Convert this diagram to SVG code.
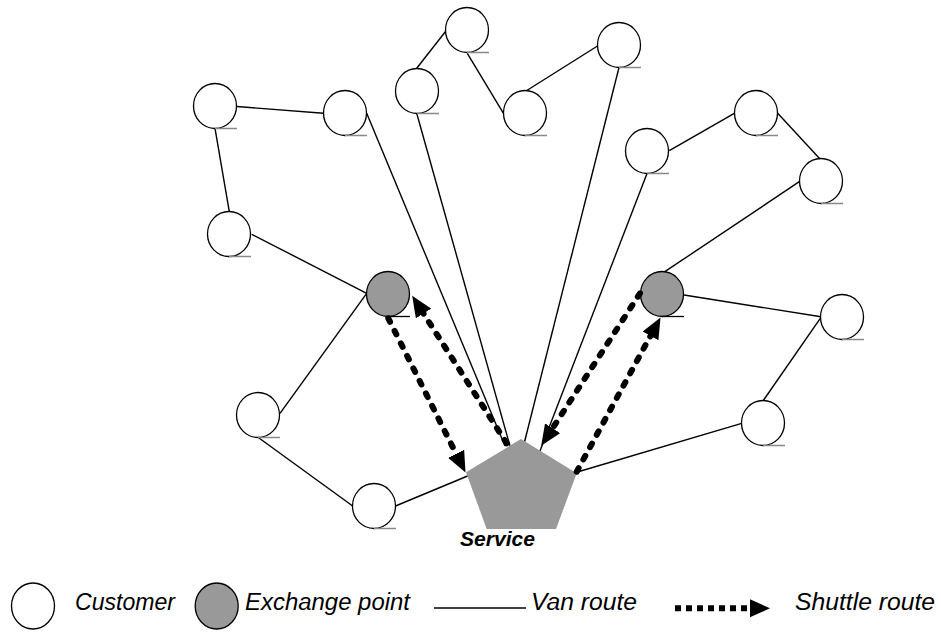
<svg xmlns="http://www.w3.org/2000/svg" width="941" height="632" viewBox="0 0 941 632">
  <style>
    .cust { fill: #ffffff; stroke: #000000; stroke-width: 1.3; }
    .xch { fill: #999999; stroke: #000000; stroke-width: 1.3; }
    .ul { stroke: #888888; stroke-width: 1.5; }
    .ulx { stroke: #000000; stroke-width: 1.3; }
    .van { stroke: #000000; stroke-width: 1.4; fill: none; }
    .shuttle { stroke: #000000; stroke-width: 6; stroke-dasharray: 4 10; stroke-linecap: round; fill: none; marker-end: url(#ah); }
    .depot { fill: #999999; stroke: none; }
    .lbl { font-family: "Liberation Sans", Arial, sans-serif; font-style: italic; font-size: 23px; fill: #000000; }
    .svc { font-family: "Liberation Sans", Arial, sans-serif; font-style: italic; font-weight: bold; font-size: 20px; fill: #000000; }
  </style>
  <defs>
    <marker id="ah" markerUnits="userSpaceOnUse" markerWidth="22" markerHeight="18" refX="0" refY="9" orient="auto">
      <path d="M0,0 L21,9 L0,18 z" fill="#000000"/>
    </marker>
  </defs>

  <!-- van routes -->
  <g id="van-routes">
    <line class="van" x1="236.7" y1="106.5" x2="323.3" y2="113.3"/>
    <line class="van" x1="215" y1="128.3" x2="229.3" y2="211.7"/>
    <line class="van" x1="251.7" y1="234.3" x2="366.7" y2="293.3"/>
    <line class="van" x1="366.7" y1="293.3" x2="280" y2="413.3"/>
    <line class="van" x1="258.3" y1="437.5" x2="352.7" y2="506"/>
    <line class="van" x1="395.5" y1="506" x2="470" y2="475"/>
    <line class="van" x1="366.7" y1="113.3" x2="505" y2="446"/>
    <line class="van" x1="416.7" y1="113.3" x2="510" y2="446"/>
    <line class="van" x1="416.7" y1="68.3" x2="446.7" y2="30"/>
    <line class="van" x1="467.3" y1="53.3" x2="503.5" y2="113.3"/>
    <line class="van" x1="526" y1="91" x2="597.5" y2="46"/>
    <line class="van" x1="619" y1="67.5" x2="523.5" y2="446"/>
    <line class="van" x1="647" y1="173.5" x2="540" y2="451"/>
    <line class="van" x1="669.3" y1="150.7" x2="734.3" y2="113.3"/>
    <line class="van" x1="777.7" y1="113.3" x2="820" y2="159"/>
    <line class="van" x1="799.3" y1="181.7" x2="663.3" y2="272.7"/>
    <line class="van" x1="684" y1="295" x2="821" y2="316.7"/>
    <line class="van" x1="821.5" y1="316.7" x2="763.3" y2="400.5"/>
    <line class="van" x1="741.7" y1="423.3" x2="574" y2="473"/>
  </g>

  <!-- service depot -->
  <g id="service">
    <polygon class="depot" points="521,439 576.7,473.3 556,529 486.7,529 466,472.3"/>
    <text class="svc" x="460" y="546" textLength="75" lengthAdjust="spacingAndGlyphs">Service</text>
  </g>

  <!-- customers -->
  <g id="customer-1"><ellipse class="cust" cx="215" cy="106" rx="21.5" ry="22.5"/><line class="ul" x1="215" y1="128.5" x2="237" y2="128.5"/></g>
  <g id="customer-2"><ellipse class="cust" cx="345" cy="113" rx="21.5" ry="22.5"/><line class="ul" x1="345" y1="135.5" x2="367" y2="135.5"/></g>
  <g id="customer-3"><ellipse class="cust" cx="229" cy="234" rx="21.5" ry="22.5"/><line class="ul" x1="229" y1="256.5" x2="251" y2="256.5"/></g>
  <g id="customer-4"><ellipse class="cust" cx="417" cy="91" rx="21.5" ry="22.5"/><line class="ul" x1="417" y1="113.5" x2="439" y2="113.5"/></g>
  <g id="customer-5"><ellipse class="cust" cx="467" cy="30" rx="21.5" ry="22.5"/><line class="ul" x1="467" y1="52.5" x2="489" y2="52.5"/></g>
  <g id="customer-6"><ellipse class="cust" cx="525" cy="113" rx="21.5" ry="22.5"/><line class="ul" x1="525" y1="135.5" x2="547" y2="135.5"/></g>
  <g id="customer-7"><ellipse class="cust" cx="619" cy="45" rx="21.5" ry="22.5"/><line class="ul" x1="619" y1="67.5" x2="641" y2="67.5"/></g>
  <g id="customer-8"><ellipse class="cust" cx="647" cy="151" rx="21.5" ry="22.5"/><line class="ul" x1="647" y1="173.5" x2="669" y2="173.5"/></g>
  <g id="customer-9"><ellipse class="cust" cx="756" cy="113" rx="21.5" ry="22.5"/><line class="ul" x1="756" y1="135.5" x2="778" y2="135.5"/></g>
  <g id="customer-10"><ellipse class="cust" cx="821" cy="181" rx="21.5" ry="22.5"/><line class="ul" x1="821" y1="203.5" x2="843" y2="203.5"/></g>
  <g id="customer-11"><ellipse class="cust" cx="842" cy="317" rx="21.5" ry="22.5"/><line class="ul" x1="842" y1="339.5" x2="864" y2="339.5"/></g>
  <g id="customer-12"><ellipse class="cust" cx="763" cy="423" rx="21.5" ry="22.5"/><line class="ul" x1="763" y1="445.5" x2="785" y2="445.5"/></g>
  <g id="customer-13"><ellipse class="cust" cx="258" cy="415" rx="21.5" ry="22.5"/><line class="ul" x1="258" y1="437.5" x2="280" y2="437.5"/></g>
  <g id="customer-14"><ellipse class="cust" cx="374" cy="506" rx="21.5" ry="22.5"/><line class="ul" x1="374" y1="528.5" x2="396" y2="528.5"/></g>

  <!-- exchange points -->
  <g id="exchange-left"><ellipse class="xch" cx="388" cy="294" rx="21.5" ry="22.5"/><line class="ulx" x1="388" y1="316.5" x2="410" y2="316.5"/></g>
  <g id="exchange-right"><ellipse class="xch" cx="662" cy="294" rx="21.5" ry="22.5"/><line class="ulx" x1="662" y1="316.5" x2="684" y2="316.5"/></g>

  <!-- shuttle routes -->
  <g id="shuttle-routes">
    <line class="shuttle" x1="388.3" y1="318.3" x2="456.1" y2="453.8"/>
    <line class="shuttle" x1="506.7" y1="443.3" x2="423.5" y2="313.5"/>
    <line class="shuttle" x1="640" y1="293.3" x2="552.6" y2="428.2"/>
    <line class="shuttle" x1="576.7" y1="471.7" x2="650.5" y2="335.9"/>
  </g>

  <!-- legend -->
  <g id="legend">
    <ellipse class="cust" cx="33" cy="606" rx="21.5" ry="23"/>
    <text class="lbl" x="75" y="610" textLength="100" lengthAdjust="spacingAndGlyphs">Customer</text>
    <ellipse class="xch" cx="216.7" cy="606" rx="21.5" ry="23"/>
    <text class="lbl" x="245" y="610" textLength="165" lengthAdjust="spacingAndGlyphs">Exchange point</text>
    <line class="van" x1="434" y1="608" x2="526" y2="608"/>
    <text class="lbl" x="531" y="610" textLength="106" lengthAdjust="spacingAndGlyphs">Van route</text>
    <line x1="675" y1="608.3" x2="747" y2="608.3" stroke="#000000" stroke-width="6" stroke-dasharray="6 5"/>
    <polygon points="750,599.3 770,608.3 750,617.3" fill="#000000"/>
    <text class="lbl" x="795" y="610" textLength="140" lengthAdjust="spacingAndGlyphs">Shuttle route</text>
  </g>
</svg>
